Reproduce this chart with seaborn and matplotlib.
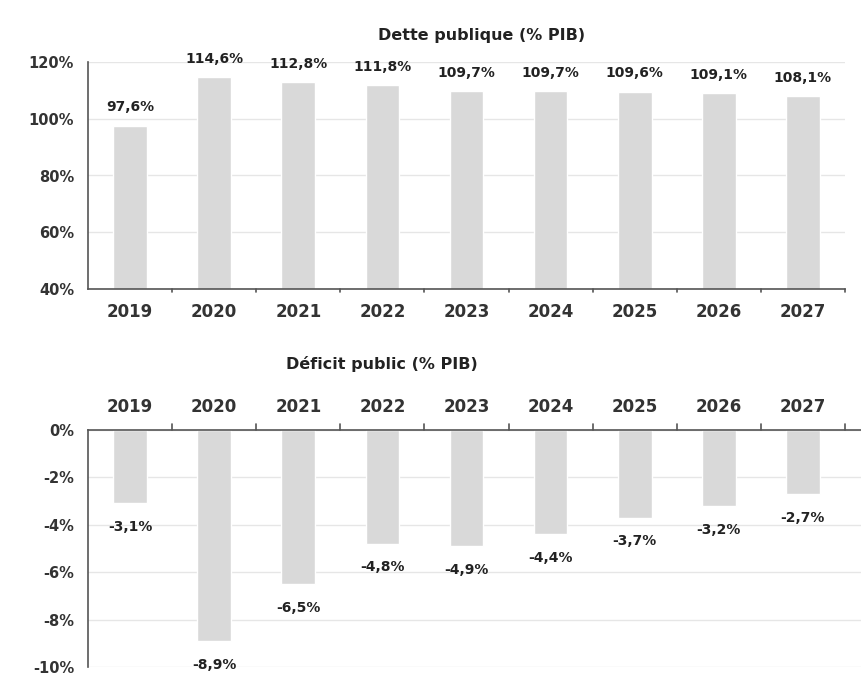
import matplotlib
matplotlib.use("Agg")
import matplotlib.pyplot as plt
import seaborn as sns
import pandas as pd

years = ["2019", "2020", "2021", "2022", "2023", "2024", "2025", "2026", "2027"]
dette = [97.6, 114.6, 112.8, 111.8, 109.7, 109.7, 109.6, 109.1, 108.1]
deficit = [-3.1, -8.9, -6.5, -4.8, -4.9, -4.4, -3.7, -3.2, -2.7]
dette_ticks = [40, 60, 80, 100, 120]
deficit_ticks = [0, -2, -4, -6, -8, -10]

sns.set_style("white")
plt.rcParams['font.family'] = ['DejaVu Sans']

df = pd.DataFrame({"annee": years, "dette": dette, "deficit": deficit})

bar_col = "#d9d9d9"
txt_col = "#333333"
axis_col = "#555555"

fig = plt.figure(figsize=(8.61, 6.78), dpi=100)
ax1 = fig.add_axes([88 / 861, 1 - 289 / 678, 757 / 861, 227 / 678])
ax2 = fig.add_axes([88 / 861, 1 - 667 / 678, 773 / 861, 237 / 678])

# --- dette publique
sns.barplot(data=df, x="annee", y="dette", color=bar_col, width=0.4,
            saturation=1, ax=ax1)
ax1.set_ylim(40, 120)
ax1.set_yticks(dette_ticks)
ax1.set_yticklabels([f"{t}%" for t in dette_ticks])
ax1.set_xlim(-0.5, len(years) - 0.5)
ax1.set_xlabel("")
ax1.set_ylabel("")
ax1.yaxis.grid(True, color="#e6e6e6", lw=1)
ax1.set_axisbelow(True)
for s in ["top", "right"]:
    ax1.spines[s].set_visible(False)
for s in ["left", "bottom"]:
    ax1.spines[s].set_color(axis_col)
    ax1.spines[s].set_linewidth(1.2)
ax1.tick_params(axis="y", length=0, labelsize=10.5, labelcolor=txt_col, pad=10)
ax1.tick_params(axis="x", length=0, labelsize=12, labelcolor=txt_col, pad=10)
for lbl in ax1.get_xticklabels() + ax1.get_yticklabels():
    lbl.set_fontweight("bold")
# small ticks between categories
for i in range(len(years)):
    ax1.plot([i + 0.5, i + 0.5], [40, 38.8], color=axis_col, lw=1.2, clip_on=False)
for i, v in enumerate(dette):
    ax1.annotate(f"{v:.1f}%".replace(".", ","), (i, v), xytext=(0, 8),
                 textcoords="offset points", ha="center", va="bottom",
                 fontsize=10, fontweight="bold", color="#222222")
ax1.set_title("Dette publique (% PIB)", fontsize=11.5, fontweight="bold",
              color="#222222", pad=16, x=0.52)

# --- deficit public
sns.barplot(data=df, x="annee", y="deficit", color=bar_col, width=0.4,
            saturation=1, ax=ax2)
ax2.set_ylim(-10, 0)
ax2.set_yticks(deficit_ticks)
ax2.set_yticklabels([f"{t}%" for t in deficit_ticks])
ax2.set_xlim(-0.5, len(years) - 0.5 + 16 / 84)
ax2.set_xlabel("")
ax2.set_ylabel("")
ax2.yaxis.grid(True, color="#e6e6e6", lw=1)
ax2.set_axisbelow(True)
ax2.xaxis.tick_top()
for s in ["bottom", "right"]:
    ax2.spines[s].set_visible(False)
for s in ["left", "top"]:
    ax2.spines[s].set_color(axis_col)
    ax2.spines[s].set_linewidth(1.2)
ax2.tick_params(axis="y", length=0, labelsize=10.5, labelcolor=txt_col, pad=10)
ax2.tick_params(axis="x", length=0, labelsize=12, labelcolor=txt_col, pad=10,
                top=True, bottom=False, labeltop=True, labelbottom=False)
for lbl in ax2.get_xticklabels() + ax2.get_yticklabels():
    lbl.set_fontweight("bold")
for i in range(len(years)):
    ax2.plot([i + 0.5, i + 0.5], [0, 0.25], color=axis_col, lw=1.2, clip_on=False)
for i, v in enumerate(deficit):
    ax2.annotate(f"{v:.1f}%".replace(".", ","), (i, v), xytext=(0, -12),
                 textcoords="offset points", ha="center", va="top",
                 fontsize=10, fontweight="bold", color="#222222")
ax2.set_title("Déficit public (% PIB)", fontsize=11.5, fontweight="bold",
              color="#222222", pad=44, x=0.38)

fig.savefig("out.png", dpi=100)
